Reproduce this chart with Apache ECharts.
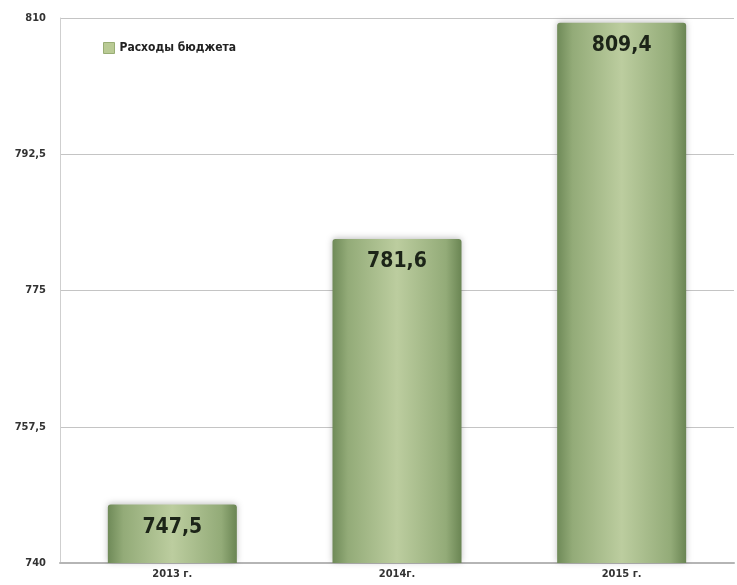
<!DOCTYPE html>
<html>
<head>
<meta charset="utf-8">
<script src="https://cdn.jsdelivr.net/npm/echarts@6/dist/echarts.min.js"></script>
<style>
  html, body { margin: 0; padding: 0; background: #fff; }
  #chart { width: 737px; height: 585px; }
</style>
</head>
<body>
<div id="chart"></div>
<script>
  const years = ['2013 г.', '2014г.', '2015 г.']
  const spending = [747.5, 781.6, 809.4]
  const yTicks = [740, 757.5, 775, 792.5, 810]

  const font = "'Liberation Sans Narrow', 'DejaVu Sans Condensed', sans-serif"
  const fmt = (v) => String(v).replace('.', ',')

  const myChart = echarts.init(document.getElementById('chart'))
  const option = {
    animation: false,
    grid: { left: 60, right: 3, top: 18, bottom: 22 },
    legend: {
      left: 98,
      top: 37,
      itemWidth: 11,
      itemHeight: 11,
      icon: 'rect',
      itemStyle: { color: '#b9ca94', borderColor: '#98ad74', borderWidth: 1, shadowBlur: 0 },
      textStyle: { fontFamily: font, fontSize: 12, color: '#222', fontWeight: 'bold' },
      data: ['Расходы бюджета']
    },
    xAxis: {
      type: 'category',
      data: years,
      axisTick: { show: false },
      axisLine: { lineStyle: { color: '#b5b5b5', width: 2 } },
      axisLabel: { fontFamily: font, fontSize: 11, fontWeight: 'bold', color: '#333', margin: 6 }
    },
    yAxis: {
      type: 'value',
      min: yTicks[0],
      max: yTicks[yTicks.length - 1],
      interval: 17.5,
      axisLine: { show: true, lineStyle: { color: '#cfcfcf' } },
      axisTick: { show: false },
      splitLine: { lineStyle: { color: '#c4c4c4', width: 1 } },
      axisLabel: {
        fontFamily: font, fontSize: 11, fontWeight: 'bold', color: '#333', margin: 14,
        formatter: (v) => fmt(v)
      }
    },
    series: [
      {
        name: 'Расходы бюджета',
        type: 'bar',
        data: spending,
        barWidth: 129,
        itemStyle: {
          color: new echarts.graphic.LinearGradient(0, 0, 1, 0, [
            { offset: 0, color: '#6f8a58' },
            { offset: 0.12, color: '#93ab78' },
            { offset: 0.5, color: '#bccd9f' },
            { offset: 0.88, color: '#93ab78' },
            { offset: 1, color: '#6a8553' }
          ]),
          borderRadius: [3, 3, 0, 0],
          shadowColor: 'rgba(0,0,0,0.25)',
          shadowBlur: 6,
          shadowOffsetY: -1
        },
        label: {
          show: true,
          position: 'insideTop',
          distance: 12,
          fontFamily: font,
          fontSize: 21,
          fontWeight: 'bold',
          color: '#1c2418',
          formatter: (p) => fmt(p.value)
        }
      }
    ]
  }
  myChart.setOption(option)
</script>
</body>
</html>
